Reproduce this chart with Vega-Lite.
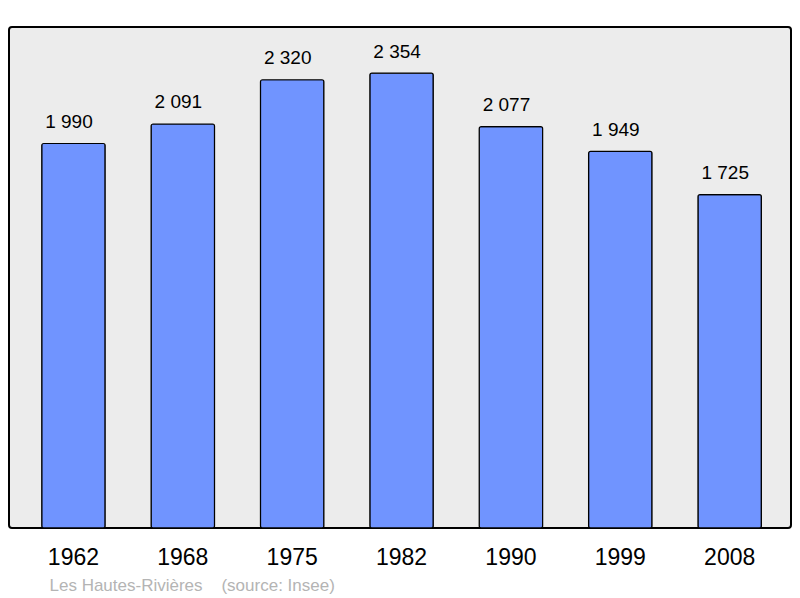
{
  "$schema": "https://vega.github.io/schema/vega-lite/v6.json",
  "autosize": "none",
  "width": 782,
  "height": 501,
  "padding": {"left": 9, "top": 27, "right": 9, "bottom": 70},
  "background": "white",
  "config": {
    "font": "Liberation Sans",
    "view": {"fill": "#ececec", "stroke": "black", "strokeWidth": 2, "cornerRadius": 3},
    "locale": {"number": {"decimal": ",", "thousands": "\u00a0", "grouping": [3], "currency": ["", "\u00a0€"]}}
  },
  "data": {"values": [
    {"year": "1962", "pop": 1990},
    {"year": "1968", "pop": 2091},
    {"year": "1975", "pop": 2320},
    {"year": "1982", "pop": 2354},
    {"year": "1990", "pop": 2077},
    {"year": "1999", "pop": 1949},
    {"year": "2008", "pop": 1725}
  ]},
  "encoding": {
    "x": {
      "field": "year", "type": "nominal", "sort": null,
      "scale": {"paddingInner": 0.42, "paddingOuter": 0.285, "align": 0.525},
      "axis": {
        "domain": false, "ticks": false, "tickSize": 0, "grid": false,
        "labelAngle": 0, "labelFontSize": 23, "labelColor": "black",
        "labelBaseline": "alphabetic", "labelPadding": 36.5,
        "title": "Les Hautes-Rivières\u00a0\u00a0\u00a0\u00a0(source: Insee)",
        "titleFontSize": 17, "titleFontWeight": "normal", "titleColor": "#b4b4b4",
        "titleX": 40, "titleY": 62.5, "titleAnchor": "start", "titleAlign": "left",
        "titleBaseline": "alphabetic"
      }
    },
    "y": {
      "field": "pop", "type": "quantitative",
      "scale": {"domain": [0, 2593], "nice": false, "zero": true},
      "axis": null
    }
  },
  "layer": [
    {"mark": {"type": "bar", "color": "#7094ff", "stroke": "black", "strokeWidth": 1.2, "cornerRadius": 2}},
    {"mark": {"type": "text", "baseline": "alphabetic", "dy": -15.5, "dx": -4.5, "fontSize": 19, "color": "black"},
     "encoding": {"text": {"field": "pop", "type": "quantitative", "format": ",d"}}}
  ]
}
